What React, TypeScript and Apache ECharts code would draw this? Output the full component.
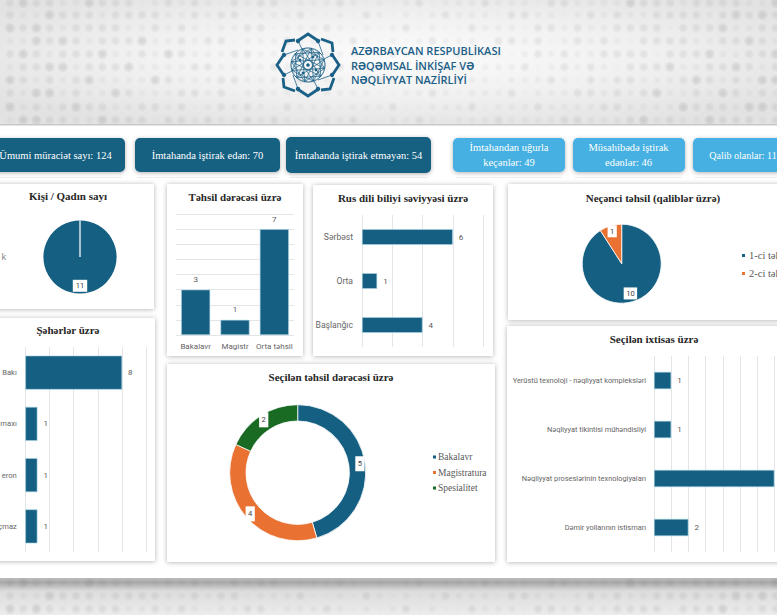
import React, { useEffect, useRef } from "react";
import * as echarts from "echarts";

const BLUE = "#156082";
const ORANGE = "#E97132";
const GREEN = "#196B24";
const LIGHT = "#45B0E1";
const GRID = "#e3e6e8";
const SERIF = "'Liberation Serif', serif";
const SANS = "Roboto, sans-serif";

const headerLines = ["AZƏRBAYCAN RESPUBLİKASI", "RƏQƏMSAL İNKİŞAF VƏ", "NƏQLİYYAT NAZİRLİYİ"];

const darkButtons = ["Ümumi müraciət sayı: 124", "İmtahanda iştirak edən: 70", "İmtahanda iştirak etməyən: 54"];
const lightButtons = ["İmtahandan uğurla\nkeçənlər: 49", "Müsahibədə iştirak\nedənlər: 46", "Qalib olanlar: 11"];

const genderCutLabel = "k";
const genderName = ["Kişi"];
const genderValues = [11];

const eduCats = ["Bakalavr", "Magistr", "Orta təhsil"];
const eduValues = [3, 1, 7];

const russianCats = ["Sərbəst", "Orta", "Başlanğıc"];
const russianValues = [6, 1, 4];

const orderNames = ["1-ci təhsil", "2-ci təhsil"];
const orderValues = [10, 1];

const cityCats = ["Bakı", "maxı", "eron", "çmaz"];
const cityValues = [8, 1, 1, 1];

const chosenEduNames = ["Bakalavr", "Magistratura", "Spesialitet"];
const chosenEduValues = [5, 4, 2];

const specialtyCats = [
  "Yerüstü texnoloji - nəqliyyat kompleksləri",
  "Nəqliyyat tikintisi mühəndisliyi",
  "Nəqliyyat proseslərinin texnologiyaları",
  "Dəmir yollarının istismarı",
];
const specialtyValues = [1, 1, 7, 2];

const titles: [string, number, number][] = [
  ["Kişi / Qadın sayı", 68, 197],
  ["Təhsil dərəcəsi üzrə", 235, 198],
  ["Rus dili biliyi səviyyəsi üzrə", 403, 199],
  ["Neçənci təhsil (qaliblər üzrə)", 653, 199],
  ["Şəhərlər üzrə", 68, 331],
  ["Seçilən təhsil dərəcəsi üzrə", 331, 378],
  ["Seçilən ixtisas üzrə", 654, 340],
];

const dotFill = (alpha: number) => ({
  type: "radial",
  x: 0.5,
  y: 0.5,
  r: 0.5,
  colorStops: [
    { offset: 0, color: `rgba(125,125,125,${alpha})` },
    { offset: 0.55, color: `rgba(125,125,125,${alpha * 0.65})` },
    { offset: 1, color: "rgba(125,125,125,0)" },
  ],
});

function dots(rows: number[]) {
  const out: any[] = [];
  const levels = [0.03, 0.08, 0.15, 0.24].map(dotFill);
  rows.forEach((y, j) => {
    for (let i = 0; i < 60; i++) {
      const v = 0.5 + 0.5 * Math.sin(i * 1.7 + j * 2.3) * Math.cos(i * 0.61 - j * 1.13);
      const edge = Math.abs(i * 13.2 + 3 - 390) / 390;
      const lvl = Math.min(3, Math.floor(v * 2.4 + edge * 1.4));
      out.push({
        type: "circle",
        silent: true,
        z: 0,
        shape: { cx: i * 13.2 + 10, cy: y, r: 3.8 + lvl * 0.7 },
        style: { fill: levels[lvl] },
      });
    }
  });
  return out;
}

function logo() {
  const c = "#1b6087";
  const kids: any[] = [];
  for (let q = 0; q < 4; q++) {
    const rotation = (-q * Math.PI) / 2;
    kids.push({
      type: "group",
      rotation,
      children: [
        { type: "polyline", shape: { points: [[-9, -25], [0, -31], [9, -25]] }, style: { stroke: c, lineWidth: 2.8, fill: "none" } },
        { type: "polyline", shape: { points: [[13, -26], [24, -22], [25, -13]] }, style: { stroke: c, lineWidth: 2.8, fill: "none" } },
        { type: "circle", shape: { cx: -10, cy: -24, r: 2.2 }, style: { fill: c } },
        { type: "circle", shape: { cx: 10, cy: -24, r: 2.2 }, style: { fill: c } },
        { type: "line", shape: { x1: -10, y1: -24, x2: -6, y2: -16 }, style: { stroke: c, lineWidth: 0.8 } },
        { type: "line", shape: { x1: 10, y1: -24, x2: 15, y2: -10 }, style: { stroke: c, lineWidth: 0.8 } },
        { type: "circle", shape: { cx: 5, cy: -8, r: 1.4 }, style: { fill: c } },
      ],
    });
  }
  const ring: number[][] = [];
  for (let i = 0; i < 12; i++) {
    const a = (i * Math.PI) / 6 + 0.2;
    ring.push([17 * Math.cos(a), 17 * Math.sin(a)]);
  }
  ring.forEach((p, i) => {
    [3, 5].forEach((step) => {
      const t = ring[(i + step) % 12];
      kids.push({ type: "line", shape: { x1: p[0], y1: p[1], x2: t[0], y2: t[1] }, style: { stroke: c, lineWidth: 0.75 } });
    });
  });
  kids.push({ type: "circle", shape: { cx: 0, cy: 0, r: 17 }, style: { stroke: c, lineWidth: 1, fill: "none" } });
  kids.push({ type: "circle", shape: { cx: 0, cy: 0, r: 1.8 }, style: { fill: c } });
  return { type: "group", x: 308, y: 65, silent: true, children: kids };
}

function card(x: number, y: number, w: number, h: number) {
  return {
    type: "rect",
    silent: true,
    z: 1,
    shape: { x, y, width: w, height: h, r: 1 },
    style: { fill: "#ffffff", shadowBlur: 5, shadowColor: "rgba(0,0,0,0.3)", shadowOffsetY: 0.5 },
  };
}

function button(x: number, y: number, w: number, h: number, fill: string, text: string, cx: number, size = 10.5) {
  return [
    {
      type: "rect",
      silent: true,
      z: 1,
      shape: { x, y, width: w, height: h, r: 5 },
      style: { fill, shadowBlur: 4, shadowColor: "rgba(0,0,0,0.3)", shadowOffsetY: 1 },
    },
    {
      type: "text",
      silent: true,
      z: 2,
      x: cx,
      y: y + h / 2,
      style: { text, fill: "#ffffff", font: `${size}px ${SERIF}`, textAlign: "center", textVerticalAlign: "middle", lineHeight: 15 },
    },
  ];
}

const barSeries = (
  xAxisIndex: number,
  yAxisIndex: number,
  data: number[],
  barWidth: number,
  position: string,
) => ({
  type: "bar",
  xAxisIndex,
  yAxisIndex,
  data,
  barWidth,
  silent: true,
  z: 4,
  itemStyle: { color: BLUE, borderColor: "#a8d3e4", borderWidth: 0.6 },
  label: { show: true, position, distance: 6, fontFamily: SANS, fontSize: 8, color: "#595959" },
});

const pieLabel = (padding: number[]) => ({
  show: true,
  position: "inside",
  formatter: "{c}",
  backgroundColor: "#ffffff",
  padding,
  color: "#404040",
  fontFamily: SANS,
  fontSize: 7.5,
});

export default function App() {
  const ref = useRef<HTMLDivElement>(null);
  useEffect(() => {
    if (!ref.current) return;
    const chart = echarts.init(ref.current, null, { renderer: "svg" });
    const valueAxis = (gridIndex: number, max: number, interval: number) => ({
      type: "value",
      z: 3,
      gridIndex,
      min: 0,
      max,
      interval,
      axisLabel: { show: false },
      axisLine: { show: false },
      axisTick: { show: false },
      splitLine: { show: true, lineStyle: { color: GRID, width: 1 } },
    });
    const catAxis = (gridIndex: number, data: string[], margin: number, inverse: boolean, fontSize: number) => ({
      type: "category",
      z: 3,
      gridIndex,
      data,
      inverse,
      axisLine: { show: false },
      axisTick: { show: false },
      splitLine: { show: false },
      axisLabel: { interval: 0, fontFamily: SANS, fontSize, color: "#666666", margin },
    });
    const gridBox = (left: number, top: number, width: number, height: number) => ({
      left,
      top,
      width,
      height,
      containLabel: false,
      outerBoundsMode: "none",
    });

    const option: any = {
      animation: false,
      backgroundColor: "#ffffff",
      title: titles.map(([text, left, top]) => ({
        text,
        left,
        top: top - 7,
        textAlign: "center",
        textStyle: { fontFamily: SERIF, fontWeight: "bold", fontSize: 11, color: "#262626" },
        padding: 0,
      })),
      grid: [
        gridBox(176, 214, 118, 121),
        gridBox(362, 215, 121, 132),
        gridBox(25.3, 347, 121, 205),
        gridBox(654, 356, 137.6, 196),
      ],
      xAxis: [
        catAxis(0, eduCats, 7, false, 8),
        valueAxis(1, 8, 2),
        valueAxis(2, 10, 2),
        valueAxis(3, 8, 1),
      ],
      yAxis: [
        valueAxis(0, 8, 1),
        catAxis(1, russianCats, 9, true, 8.6),
        catAxis(2, cityCats, 8.5, true, 7.6),
        catAxis(3, specialtyCats, 8, true, 7.4),
      ],
      legend: [
        {
          data: orderNames,
          orient: "vertical",
          left: 740,
          top: 250,
          padding: 0,
          itemWidth: 5,
          itemHeight: 5,
          itemGap: 7,
          icon: "rect",
          selectedMode: false,
          textStyle: { fontFamily: SERIF, fontSize: 10.5, color: "#595959", padding: [0, 0, 0, -2] },
        },
        {
          data: chosenEduNames,
          orient: "vertical",
          left: 431,
          top: 452,
          padding: 0,
          itemWidth: 5,
          itemHeight: 5,
          itemGap: 5.5,
          icon: "rect",
          selectedMode: false,
          textStyle: { fontFamily: SERIF, fontSize: 9.5, color: "#595959", padding: [0, 0, 0, -4] },
        },
      ],
      series: [
        barSeries(0, 0, eduValues, 29, "top"),
        barSeries(1, 1, russianValues, 15.6, "right"),
        barSeries(2, 2, cityValues, 34, "right"),
        barSeries(3, 3, specialtyValues, 17.2, "right"),
        {
          type: "pie",
          silent: true,
          center: [80, 257],
          radius: 36.6,
          startAngle: 90,
          data: genderName.map((name, i) => ({ name, value: genderValues[i], itemStyle: { color: BLUE } })),
          label: pieLabel([2, 3]),
          labelLine: { show: false },
          labelLayout: { dy: 7.5 },
        },
        {
          type: "pie",
          silent: true,
          center: [621.7, 263.7],
          radius: 39.5,
          startAngle: 90,
          data: orderNames.map((name, i) => ({
            name,
            value: orderValues[i],
            itemStyle: { color: [BLUE, ORANGE][i], borderColor: "#ffffff", borderWidth: 0.8 },
          })),
          label: pieLabel([2, 2.5]),
          labelLine: { show: false },
          labelLayout: (p: any) => (p.dataIndex === 0 ? { dx: 2.3, dy: 7.9 } : { dx: -3.1, dy: -10.6 }),
        },
        {
          type: "pie",
          silent: true,
          center: [297.7, 472.7],
          radius: [51.7, 68],
          startAngle: 90,
          data: chosenEduNames.map((name, i) => ({
            name,
            value: chosenEduValues[i],
            itemStyle: { color: [BLUE, ORANGE, GREEN][i], borderColor: "#ffffff", borderWidth: 0.8 },
          })),
          label: pieLabel([3.5, 2.5]),
          labelLine: { show: false },
        },
      ],
      graphic: {
        elements: [
          {
            type: "rect",
            silent: true,
            z: 0,
            shape: { x: 0, y: 0, width: 777, height: 125 },
            style: {
              fill: {
                type: "radial",
                x: 0.5,
                y: 0.45,
                r: 0.62,
                colorStops: [
                  { offset: 0, color: "#fcfcfc" },
                  { offset: 0.55, color: "#f0f0f0" },
                  { offset: 1, color: "#e2e2e2" },
                ],
              },
            },
          },
          {
            type: "rect",
            silent: true,
            z: 0,
            shape: { x: 0, y: 578, width: 777, height: 37 },
            style: {
              fill: {
                type: "linear",
                x: 0,
                y: 0,
                x2: 0,
                y2: 1,
                colorStops: [
                  { offset: 0, color: "#bdbdbd" },
                  { offset: 0.12, color: "#a8a8a8" },
                  { offset: 0.35, color: "#dcdcdc" },
                  { offset: 1, color: "#ececec" },
                ],
              },
            },
          },
          ...dots([3, 15, 28, 41, 54, 67, 80, 93, 107, 120]),
          ...dots([583, 596, 609]),
          { type: "rect", silent: true, z: 1, shape: { x: 0, y: 124, width: 777, height: 1.5 }, style: { fill: "#c8c8c8" } },
          logo(),
          ...headerLines.map((text, i) => ({
            type: "text",
            silent: true,
            z: 2,
            x: 351,
            y: 50.5 + i * 14.5,
            style: { text, fill: "#1b6087", font: `600 11px 'Open Sans', sans-serif`, textAlign: "left", textVerticalAlign: "middle" },
          })),
          ...[[0, 122], [137, 141], [290, 138], [456, 106], [575, 107], [695, 82]].map(([x, width]) => ({
            type: "rect",
            silent: true,
            z: 0,
            shape: { x, y: 177, width, height: 1 },
            style: { fill: "#eeeeee" },
          })),
          ...button(-10, 138, 135, 34, BLUE, darkButtons[0], 55.5),
          ...button(135, 138, 145, 34, BLUE, darkButtons[1], 207.5),
          ...button(286, 137, 145, 36, BLUE, darkButtons[2], 358.5),
          ...button(453, 138, 112, 34, LIGHT, lightButtons[0], 509),
          ...button(573, 138, 112, 34, LIGHT, lightButtons[1], 628.5),
          ...button(693, 138, 100, 34, LIGHT, lightButtons[2], 743, 10),
          card(-8, 184, 162, 125),
          card(167, 184, 136, 172),
          card(313, 185, 180, 171),
          card(508, 184, 280, 136),
          card(-8, 318, 163, 243),
          card(167, 364, 328, 198),
          card(507, 326, 280, 236),
          { type: "line", silent: true, z: 20, shape: { x1: 80, y1: 220.4, x2: 80, y2: 257 }, style: { stroke: "#e6eff3", lineWidth: 1.4 } },
          {
            type: "text",
            silent: true,
            z: 2,
            x: 6,
            y: 257,
            style: { text: genderCutLabel, fill: "#888888", font: `9px ${SANS}`, textAlign: "right", textVerticalAlign: "middle" },
          },
        ],
      },
    };
    chart.setOption(option);
    return () => chart.dispose();
  }, []);
  return <div ref={ref} style={{ position: "fixed", left: 0, top: 0, width: 777, height: 615 }} />;
}
